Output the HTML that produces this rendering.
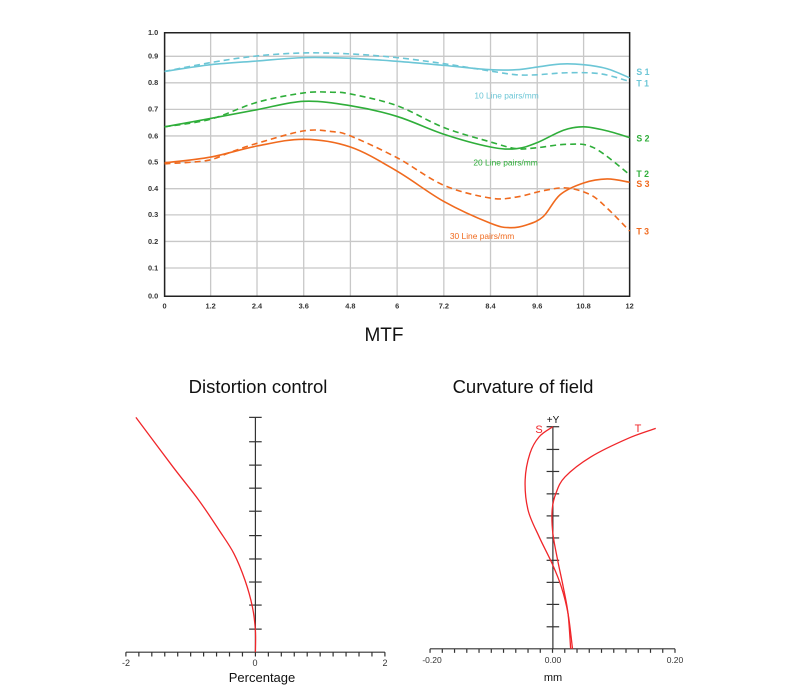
<!DOCTYPE html>
<html><head><meta charset="utf-8"><style>
html,body{margin:0;padding:0;background:#fff}
svg{display:block}
text{font-family:"Liberation Sans","DejaVu Sans",sans-serif}
</style></head><body>
<svg id="s" width="800" height="700" viewBox="0 0 800 700" xmlns="http://www.w3.org/2000/svg">
<g id="mtf" transform="translate(130,20) scale(0.336)"></g>
<g id="bot" transform="translate(110,400) scale(0.37,0.334)"></g>
<g id="bt"></g>
<text x="384" y="341" font-size="19" text-anchor="middle" fill="#111">MTF</text>
<text x="258" y="393" font-size="18.5" text-anchor="middle" fill="#111">Distortion control</text>
<text x="523" y="393" font-size="18.5" text-anchor="middle" fill="#111">Curvature of field</text>
</svg>
<script>
var NS="http://www.w3.org/2000/svg";
function el(p,n,a,t){var e=document.createElementNS(NS,n);for(var k in a)e.setAttribute(k,a[k]);if(t!==undefined)e.textContent=t;p.appendChild(e);return e;}
function smooth(pts){var d="M"+pts[0][0]+","+pts[0][1];for(var i=0;i<pts.length-1;i++){var p0=pts[i-1]||pts[i],p1=pts[i],p2=pts[i+1],p3=pts[i+2]||p2;
var c1=[p1[0]+(p2[0]-p0[0])/6,p1[1]+(p2[1]-p0[1])/6],c2=[p2[0]-(p3[0]-p1[0])/6,p2[1]-(p3[1]-p1[1])/6];
d+=" C"+c1+" "+c2+" "+p2;}return d;}
var m=document.getElementById("mtf");
var gx=[103,240,378,517,656,795,934,1073,1212,1350,1487],gy=[38,108,187,266,345,423,502,580,659,738,822];
gx.forEach(function(x){el(m,"line",{x1:x,y1:38,x2:x,y2:822,stroke:"#c8c8c8","stroke-width":1.3,"vector-effect":"non-scaling-stroke"});});
gy.forEach(function(y){el(m,"line",{x1:103,y1:y,x2:1487,y2:y,stroke:"#c8c8c8","stroke-width":1.3,"vector-effect":"non-scaling-stroke"});});
el(m,"rect",{x:103,y:38,width:1384,height:784,fill:"none",stroke:"#222","stroke-width":1.5,"vector-effect":"non-scaling-stroke"});
var xl=["0","1.2","2.4","3.6","4.8","6","7.2","8.4","9.6","10.8","12"];
xl.forEach(function(t,i){el(m,"text",{x:gx[i],y:858,"font-size":22,"font-weight":"bold","text-anchor":"middle",fill:"#333"},t);});
var yl=["1.0","0.9","0.8","0.7","0.6","0.5","0.4","0.3","0.2","0.1","0.0"];
yl.forEach(function(t,i){el(m,"text",{x:84,y:gy[i]+7,"font-size":22,"font-weight":"bold","text-anchor":"end",fill:"#333"},t);});
var C="#6cc6d6",G="#2fae3a",O="#f06a1e";
var curves=[
[C,0,[[103,153],[240,133],[378,122],[517,112],[656,114],[795,123],[934,135],[1073,148],[1150,148],[1212,140],[1280,131],[1350,133],[1420,145],[1487,172]]],
[C,1,[[103,153],[250,125],[378,107],[517,98],[656,101],[795,112],[934,130],[1073,152],[1150,163],[1212,163],[1300,157],[1400,160],[1487,183]]],
[G,0,[[103,318],[240,293],[378,267],[517,242],[656,255],[795,287],[934,340],[1073,378],[1150,383],[1212,365],[1290,328],[1350,318],[1420,330],[1487,350]]],
[G,1,[[103,318],[240,295],[378,245],[517,217],[600,215],[656,220],[795,255],[934,320],[1073,363],[1150,383],[1212,380],[1300,370],[1380,380],[1487,460]]],
[O,0,[[103,425],[240,408],[378,375],[517,355],[656,378],[795,450],[934,540],[1073,605],[1130,618],[1180,610],[1230,585],[1280,520],[1350,485],[1420,473],[1487,483]]],
[O,1,[[103,428],[230,418],[300,393],[378,367],[517,330],[600,332],[656,345],[795,410],[934,492],[1073,530],[1150,527],[1230,508],[1300,500],[1370,520],[1420,560],[1487,628]]]];
curves.forEach(function(c){var a={d:smooth(c[2]),fill:"none",stroke:c[0],"stroke-width":1.6,"vector-effect":"non-scaling-stroke"};if(c[1])a["stroke-dasharray"]="6,4";el(m,"path",a);});
[["S 1",C,163],["T 1",C,198],["S 2",G,362],["T 2",G,467],["S 3",O,497],["T 3",O,638]].forEach(function(l){el(m,"text",{x:1507,y:l[2],"font-size":26,"font-weight":"bold",fill:l[1]},l[0]);});
el(m,"text",{x:1025,y:233,"font-size":25,fill:C},"10 Line pairs/mm");
el(m,"text",{x:1022,y:433,"font-size":25,fill:G},"20 Line pairs/mm");
el(m,"text",{x:952,y:652,"font-size":25,fill:O},"30 Line pairs/mm");
var b=document.getElementById("bot"),t=document.getElementById("bt"),K="#333";
function L(x1,y1,x2,y2){el(b,"line",{x1:x1,y1:y1,x2:x2,y2:y2,stroke:K,"stroke-width":1.2,"vector-effect":"non-scaling-stroke"});}
// distortion
L(393,52,393,755);
[52,125,195,264,333,406,476,545,614,686].forEach(function(y){L(376,y,410,y);});
L(43,755,743,755);
for(var i=0;i<=20;i++){L(43+i*35,755,43+i*35,768);}
el(t,"text",{x:126,y:666,"font-size":9,"text-anchor":"middle",fill:K},"-2");
el(t,"text",{x:255,y:666,"font-size":9,"text-anchor":"middle",fill:K},"0");
el(t,"text",{x:385,y:666,"font-size":9,"text-anchor":"middle",fill:K},"2");
el(t,"text",{x:262,y:682,"font-size":13,"text-anchor":"middle",fill:"#111"},"Percentage");
var R="#f0262a";
el(b,"path",{d:smooth([[393,755],[393,690],[385,620],[365,540],[335,460],[295,390],[240,300],[170,200],[70,52]]),fill:"none",stroke:R,"stroke-width":1.3,"vector-effect":"non-scaling-stroke"});
// curvature
L(1197,80,1197,745);
[80,148,214,281,347,413,480,546,612,679].forEach(function(y){L(1180,y,1214,y);});
L(865,745,1527,745);
for(var i=0;i<=20;i++){L(865+i*33.1,745,865+i*33.1,757);}
el(t,"text",{x:432,y:663,"font-size":8.5,"text-anchor":"middle",fill:K},"-0.20");
el(t,"text",{x:553,y:663,"font-size":8.5,"text-anchor":"middle",fill:K},"0.00");
el(t,"text",{x:675,y:663,"font-size":8.5,"text-anchor":"middle",fill:K},"0.20");
el(t,"text",{x:553,y:681,"font-size":11,"text-anchor":"middle",fill:"#111"},"mm");
el(t,"text",{x:553,y:423,"font-size":10,"text-anchor":"middle",fill:"#111"},"+Y");
el(t,"text",{x:539,y:433,"font-size":11,"text-anchor":"middle",fill:R},"S");
el(t,"text",{x:638,y:432,"font-size":11,"text-anchor":"middle",fill:R},"T");
el(b,"path",{d:smooth([[1197,80],[1160,110],[1135,160],[1122,240],[1130,330],[1160,410],[1195,490],[1220,560],[1238,640],[1250,745]]),fill:"none",stroke:R,"stroke-width":1.3,"vector-effect":"non-scaling-stroke"});
el(b,"path",{d:smooth([[1475,85],[1400,115],[1300,170],[1230,230],[1205,280],[1195,330],[1197,400],[1210,480],[1225,560],[1238,640],[1245,745]]),fill:"none",stroke:R,"stroke-width":1.3,"vector-effect":"non-scaling-stroke"});
</script>
</body></html>
